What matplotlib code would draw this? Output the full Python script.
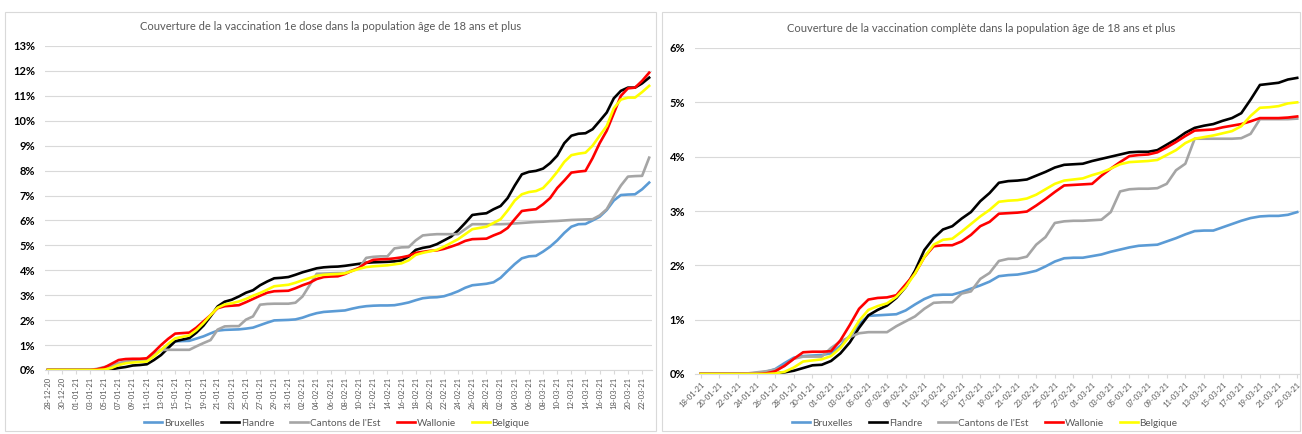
import pandas as pd
import matplotlib
matplotlib.use("Agg")
import matplotlib.pyplot as plt
from matplotlib.patches import Rectangle
from matplotlib.ticker import PercentFormatter, MultipleLocator

plt.rcParams['font.family'] = ['Lato', 'DejaVu Sans']

# first dose, 28-12-20 .. 23-03-21, in %
dates_1 = pd.date_range("2020-12-28", "2021-03-23", freq="D")
bruxelles_1 = [0]*8 + [0.08, 0.15, 0.22, 0.30, 0.36, 0.40, 0.43,
    0.60, 0.80, 1.00, 1.15, 1.16, 1.17, 1.26, 1.35, 1.47, 1.58,
    1.61, 1.62, 1.63, 1.66, 1.70, 1.80, 1.90, 1.99, 2.00, 2.01,
    2.03, 2.10, 2.20, 2.28, 2.33, 2.35, 2.37, 2.39, 2.46, 2.52,
    2.56, 2.58, 2.59, 2.59, 2.60, 2.65, 2.71, 2.80, 2.88, 2.91,
    2.92, 2.96, 3.05, 3.16, 3.30, 3.40, 3.43, 3.46, 3.52, 3.70,
    3.98, 4.25, 4.48, 4.56, 4.58, 4.75, 4.95, 5.20, 5.50, 5.75,
    5.85, 5.86, 6.00, 6.15, 6.42, 6.80, 7.02, 7.04, 7.05, 7.25, 7.52]
flandre_1 = [0]*8 + [0.01, 0.03, 0.08, 0.12, 0.18, 0.20, 0.23,
    0.40, 0.60, 0.88, 1.15, 1.22, 1.28, 1.50, 1.78, 2.15, 2.55,
    2.74, 2.82, 2.95, 3.10, 3.20, 3.40, 3.55, 3.68, 3.70, 3.73,
    3.82, 3.92, 4.00, 4.08, 4.12, 4.14, 4.15, 4.18, 4.22, 4.26,
    4.30, 4.32, 4.33, 4.34, 4.36, 4.40, 4.55, 4.82, 4.90, 4.95,
    5.05, 5.20, 5.35, 5.60, 5.90, 6.22, 6.26, 6.29, 6.45, 6.58,
    6.90, 7.40, 7.85, 7.95, 7.99, 8.08, 8.30, 8.60, 9.10, 9.40,
    9.48, 9.50, 9.66, 9.99, 10.33, 10.90, 11.20, 11.33, 11.33, 11.50, 11.73]
cantons_1 = [0]*7 + [0.05, 0.12, 0.18, 0.28, 0.34, 0.36, 0.37, 0.38,
    0.60, 0.80, 0.81, 0.81, 0.81, 0.81, 0.95, 1.08, 1.20, 1.62,
    1.75, 1.76, 1.76, 2.02, 2.15, 2.62, 2.65, 2.66, 2.66, 2.66,
    2.70, 2.95, 3.40, 3.86, 3.87, 3.88, 3.89, 3.89, 4.00, 4.09,
    4.50, 4.54, 4.56, 4.56, 4.88, 4.92, 4.93, 5.20, 5.40, 5.43,
    5.45, 5.45, 5.45, 5.45, 5.65, 5.85, 5.85, 5.85, 5.85, 5.85,
    5.86, 5.88, 5.90, 5.92, 5.94, 5.95, 5.97, 5.98, 6.00, 6.02,
    6.03, 6.04, 6.05, 6.20, 6.45, 6.95, 7.40, 7.76, 7.78, 7.79, 8.52]
wallonie_1 = [0]*7 + [0.03, 0.10, 0.25, 0.40, 0.44, 0.45, 0.45, 0.47,
    0.72, 1.00, 1.25, 1.46, 1.48, 1.50, 1.70, 1.95, 2.20, 2.48,
    2.56, 2.58, 2.60, 2.72, 2.85, 2.98, 3.10, 3.16, 3.17, 3.18,
    3.28, 3.40, 3.50, 3.65, 3.73, 3.75, 3.76, 3.85, 3.98, 4.10,
    4.30, 4.42, 4.44, 4.45, 4.48, 4.52, 4.58, 4.70, 4.74, 4.78,
    4.80, 4.86, 4.95, 5.05, 5.18, 5.25, 5.26, 5.27, 5.40, 5.51,
    5.70, 6.05, 6.38, 6.42, 6.45, 6.65, 6.90, 7.30, 7.60, 7.92,
    7.96, 7.99, 8.50, 9.10, 9.60, 10.30, 11.00, 11.30, 11.33, 11.60, 11.93]
belgique_1 = [0]*8 + [0.02, 0.08, 0.20, 0.27, 0.30, 0.32, 0.34,
    0.55, 0.80, 1.05, 1.27, 1.33, 1.39, 1.60, 1.88, 2.20, 2.50,
    2.63, 2.68, 2.75, 2.85, 2.98, 3.09, 3.22, 3.36, 3.39, 3.42,
    3.50, 3.60, 3.69, 3.78, 3.82, 3.84, 3.85, 3.88, 3.97, 4.06,
    4.13, 4.16, 4.18, 4.20, 4.24, 4.28, 4.40, 4.62, 4.70, 4.76,
    4.82, 4.95, 5.10, 5.25, 5.45, 5.65, 5.70, 5.75, 5.90, 6.05,
    6.40, 6.80, 7.05, 7.14, 7.18, 7.30, 7.60, 7.95, 8.35, 8.62,
    8.68, 8.72, 9.00, 9.40, 9.79, 10.50, 10.85, 10.93, 10.93, 11.15, 11.40]

# complete vaccination, 18-01-21 .. 23-03-21, in %
dates_2 = pd.date_range("2021-01-18", "2021-03-23", freq="D")
bruxelles_2 = [0]*6 + [0.02, 0.04, 0.09, 0.20, 0.30, 0.33, 0.34, 0.35, 0.38,
    0.52, 0.70, 0.92, 1.07, 1.08, 1.09, 1.10, 1.17, 1.28, 1.38,
    1.45, 1.46, 1.46, 1.51, 1.57, 1.63, 1.70, 1.80, 1.82, 1.83,
    1.86, 1.90, 1.98, 2.07, 2.13, 2.14, 2.14, 2.17, 2.20, 2.25,
    2.29, 2.33, 2.36, 2.37, 2.38, 2.44, 2.50, 2.57, 2.63, 2.64,
    2.64, 2.70, 2.76, 2.82, 2.87, 2.90, 2.91, 2.91, 2.93, 2.98]
flandre_2 = [0]*8 + [0.01, 0.03, 0.06, 0.11, 0.16, 0.17, 0.24,
    0.38, 0.58, 0.85, 1.08, 1.18, 1.26, 1.40, 1.60, 1.90, 2.28,
    2.50, 2.66, 2.72, 2.86, 2.98, 3.18, 3.33, 3.52, 3.55, 3.56,
    3.58, 3.65, 3.72, 3.80, 3.85, 3.86, 3.87, 3.92, 3.96, 4.00,
    4.04, 4.08, 4.09, 4.09, 4.12, 4.22, 4.32, 4.44, 4.53, 4.57,
    4.60, 4.66, 4.71, 4.80, 5.05, 5.32, 5.34, 5.36, 5.42, 5.45]
cantons_2 = [0]*5 + [0.01, 0.03, 0.05, 0.08, 0.15, 0.28, 0.32, 0.32, 0.32, 0.48,
    0.60, 0.68, 0.75, 0.77, 0.77, 0.77, 0.88, 0.97, 1.06, 1.20,
    1.31, 1.32, 1.32, 1.48, 1.52, 1.75, 1.86, 2.08, 2.12, 2.12,
    2.16, 2.38, 2.52, 2.78, 2.81, 2.82, 2.82, 2.83, 2.84, 2.98,
    3.36, 3.40, 3.41, 3.41, 3.42, 3.50, 3.75, 3.87, 4.33, 4.33,
    4.33, 4.33, 4.33, 4.34, 4.42, 4.69, 4.69, 4.69, 4.69, 4.70]
wallonie_2 = [0]*7 + [0.01, 0.05, 0.15, 0.28, 0.40, 0.41, 0.41, 0.42,
    0.62, 0.90, 1.20, 1.37, 1.40, 1.41, 1.45, 1.65, 1.85, 2.15,
    2.35, 2.37, 2.37, 2.44, 2.56, 2.72, 2.80, 2.95, 2.96, 2.97,
    2.99, 3.10, 3.22, 3.35, 3.47, 3.48, 3.49, 3.50, 3.65, 3.78,
    3.90, 4.01, 4.03, 4.04, 4.08, 4.17, 4.27, 4.38, 4.48, 4.49,
    4.50, 4.54, 4.57, 4.60, 4.65, 4.71, 4.71, 4.71, 4.72, 4.74]
belgique_2 = [0]*8 + [0.01, 0.04, 0.12, 0.23, 0.25, 0.27, 0.33,
    0.48, 0.70, 0.98, 1.18, 1.25, 1.30, 1.42, 1.60, 1.85, 2.15,
    2.38, 2.47, 2.49, 2.62, 2.76, 2.90, 3.02, 3.17, 3.19, 3.20,
    3.23, 3.30, 3.40, 3.50, 3.56, 3.58, 3.60, 3.66, 3.71, 3.78,
    3.86, 3.90, 3.91, 3.92, 3.94, 4.03, 4.12, 4.25, 4.33, 4.36,
    4.39, 4.43, 4.47, 4.56, 4.75, 4.90, 4.91, 4.93, 4.98, 5.00]

names = ["Bruxelles", "Flandre", "Cantons de l'Est", "Wallonie", "Belgique"]
colors = ["#5b9bd5", "#000000", "#a5a5a5", "#ff0000", "#ffff00"]

TXT = "#595959"
GRID = "#d9d9d9"


def draw_panel(ax, dates, series, ymax, rot):
    x = range(len(dates))
    for vals, name, col in zip(series, names, colors):
        ax.plot(x, vals, color=col, lw=1.9, label=name, solid_joinstyle="round")

    ax.set_ylim(0, ymax)
    ax.yaxis.set_major_locator(MultipleLocator(1))
    ax.yaxis.set_major_formatter(PercentFormatter(decimals=0))
    ax.grid(axis="y", color=GRID, lw=0.8)
    ax.set_axisbelow(True)

    ticks = list(range(0, len(dates), 2))
    ax.set_xticks(ticks)
    ax.set_xticklabels([dates[i].strftime("%d-%m-%y") for i in ticks],
                       rotation=rot, ha="center" if rot == 90 else "right",
                       rotation_mode="default" if rot == 90 else "anchor",
                       fontsize=5.5, color=TXT)
    for lab in ax.get_yticklabels():
        lab.set_fontweight("bold")
        lab.set_fontsize(8)
        lab.set_color("black")

    for s in ["top", "right", "left"]:
        ax.spines[s].set_visible(False)
    ax.spines["bottom"].set_color(GRID)
    ax.tick_params(axis="x", color=GRID, length=3, pad=2)
    ax.tick_params(axis="y", length=0, pad=7)


fig = plt.figure(figsize=(13.02, 4.34), dpi=100)

# chart area borders
fig.patches.append(Rectangle((5 / 1302, 3 / 434), 651 / 1302, 419 / 434,
                             transform=fig.transFigure, fill=False, ec=GRID, lw=0.8))
fig.patches.append(Rectangle((662 / 1302, 3 / 434), 638 / 1302, 419 / 434,
                             transform=fig.transFigure, fill=False, ec=GRID, lw=0.8))

ax1 = fig.add_axes([45 / 1302, 64 / 434, 607 / 1302, 324 / 434])
draw_panel(ax1, dates_1,
           [bruxelles_1, flandre_1, cantons_1, wallonie_1, belgique_1], 13, 90)
ax1.set_xlim(-0.4, 85.4)

ax2 = fig.add_axes([695 / 1302, 60 / 434, 605 / 1302, 326 / 434])
draw_panel(ax2, dates_2,
           [bruxelles_2, flandre_2, cantons_2, wallonie_2, belgique_2], 6, 45)
ax2.set_xlim(-0.6, 64.3)

fig.text(331 / 1302, 1 - 26 / 434,
         "Couverture de la vaccination 1e dose dans la population âge de 18 ans et plus",
         ha="center", va="center", fontsize=8, color=TXT)
fig.text(981 / 1302, 1 - 29 / 434,
         "Couverture de la vaccination complète dans la population âge de 18 ans et plus",
         ha="center", va="center", fontsize=8, color=TXT)

for ax, cx in [(ax1, 337 / 1302), (ax2, 985 / 1302)]:
    ax.legend(loc="center", bbox_to_anchor=(cx, 11 / 434), bbox_transform=fig.transFigure,
              ncol=5, frameon=False, fontsize=7.2, labelcolor=TXT,
              handlelength=1.8, handletextpad=0.2, columnspacing=1.6)

plt.savefig("out.png", dpi=100)
